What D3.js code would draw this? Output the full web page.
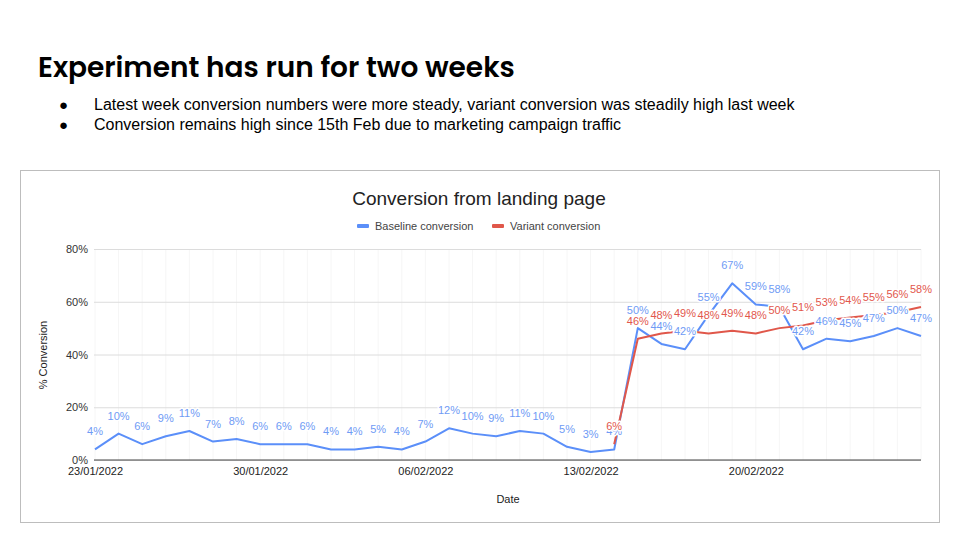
<!DOCTYPE html>
<html><head><meta charset="utf-8">
<script src="https://cdn.jsdelivr.net/npm/d3@7"></script>
<style>body{margin:0;background:#fff}svg{display:block}</style>
</head><body>
<svg id="c" width="960" height="540"></svg>
<script>
const dates = ["23/01/2022","24/01/2022","25/01/2022","26/01/2022","27/01/2022","28/01/2022","29/01/2022","30/01/2022","31/01/2022","01/02/2022","02/02/2022","03/02/2022","04/02/2022","05/02/2022","06/02/2022","07/02/2022","08/02/2022","09/02/2022","10/02/2022","11/02/2022","12/02/2022","13/02/2022","14/02/2022","15/02/2022","16/02/2022","17/02/2022","18/02/2022","19/02/2022","20/02/2022","21/02/2022","22/02/2022","23/02/2022","24/02/2022","25/02/2022","26/02/2022","27/02/2022"];
const baseline = [4,10,6,9,11,7,8,6,6,6,4,4,5,4,7,12,10,9,11,10,5,3,4,50,44,42,55,67,59,58,42,46,45,47,50,47];
const variant = [null,null,null,null,null,null,null,null,null,null,null,null,null,null,null,null,null,null,null,null,null,null,6,46,48,49,48,49,48,50,51,53,54,55,56,58];
const yTicks = [0,20,40,60,80];
const xTickLabels = ["23/01/2022","30/01/2022","06/02/2022","13/02/2022","20/02/2022"];
const seriesNames = ["Baseline conversion","Variant conversion"];

const svg = d3.select("#c");
const F = "Liberation Sans, Arial, sans-serif";
const blue = "#5b8ff9", red = "#e0574a";
const blueText = "#6f9bf5", redText = "#e2574c";

// slide header
svg.append("text").attr("x",38).attr("y",77).attr("font-family","Poppins, Inter, sans-serif")
  .attr("font-weight",600).attr("font-size",28).attr("fill","#000")
  .text("Experiment has run for two weeks");
const bullets = ["Latest week conversion numbers were more steady, variant conversion was steadily high last week",
  "Conversion remains high since 15th Feb due to marketing campaign traffic"];
bullets.forEach((b,i)=>{
  svg.append("text").attr("x",59).attr("y",110+i*20).attr("font-family",F).attr("font-size",15).text("●");
  svg.append("text").attr("x",94).attr("y",110+i*20).attr("font-family",F).attr("font-size",16).attr("fill","#000").text(b);
});

// chart frame
svg.append("rect").attr("x",20.5).attr("y",170.5).attr("width",919).attr("height",352)
  .attr("fill","#fff").attr("stroke","#bdbdbd").attr("stroke-width",1);

svg.append("text").attr("x",479).attr("y",205).attr("text-anchor","middle").attr("font-family",F)
  .attr("font-size",19).attr("fill","#222").text("Conversion from landing page");

// legend
const leg = [{x:357,c:blue,t:seriesNames[0]},{x:492,c:red,t:seriesNames[1]}];
leg.forEach(l=>{
  svg.append("rect").attr("x",l.x).attr("y",224).attr("width",12).attr("height",4).attr("rx",1).attr("fill",l.c);
  svg.append("text").attr("x",l.x+18).attr("y",229.5).attr("font-family",F).attr("font-size",11).attr("fill","#444").text(l.t);
});

const parse = d3.timeParse("%d/%m/%Y");
const dd = dates.map(parse);
const x = d3.scaleTime().domain([dd[0], dd[dd.length-1]]).range([95,921]);
const y = d3.scaleLinear().domain([0,80]).range([460,249]);

const g = svg.append("g");
// vertical minor grid at each date
g.selectAll(".vg").data(dd).enter().append("line")
  .attr("x1",d=>x(d)).attr("x2",d=>x(d)).attr("y1",y(80)).attr("y2",y(0))
  .attr("stroke","#f6f6f6").attr("stroke-width",1);
// horizontal grid
const yAxis = d3.axisLeft(y).tickValues(yTicks).tickFormat(d=>d+"%").tickSize(-(921-94)).tickPadding(6);
const ya = g.append("g").attr("transform","translate(94,0)").call(yAxis);
ya.select(".domain").remove();
ya.selectAll("line").attr("stroke","#dcdcdc");
ya.selectAll("text").attr("font-family",F).attr("font-size",11).attr("fill","#333");
// zero line
g.append("line").attr("x1",94).attr("x2",921).attr("y1",y(0)).attr("y2",y(0)).attr("stroke","#444").attr("stroke-width",1.2);

// x axis labels
const xAxis = d3.axisBottom(x).tickValues(xTickLabels.map(parse)).tickFormat(d3.timeFormat("%d/%m/%Y")).tickSize(0).tickPadding(7);
const xa = g.append("g").attr("transform",`translate(0,${y(0)})`).call(xAxis);
xa.select(".domain").remove();
xa.selectAll("text").attr("font-family",F).attr("font-size",11).attr("fill","#222");

svg.append("text").attr("x",508).attr("y",503).attr("text-anchor","middle").attr("font-family",F)
  .attr("font-size",11).attr("fill","#222").text("Date");
svg.append("text").attr("transform","translate(47,355) rotate(-90)").attr("text-anchor","middle")
  .attr("font-family",F).attr("font-size",11).attr("fill","#222").text("% Conversion");

// lines
const line = d3.line().defined(d=>d.v!=null).x(d=>x(d.d)).y(d=>y(d.v));
const bData = dd.map((d,i)=>({d,v:baseline[i]}));
const vData = dd.map((d,i)=>({d,v:variant[i]}));
g.append("path").datum(bData).attr("d",line).attr("fill","none").attr("stroke",blue).attr("stroke-width",2).attr("stroke-linejoin","round");
g.append("path").datum(vData).attr("d",line).attr("fill","none").attr("stroke",red).attr("stroke-width",2).attr("stroke-linejoin","round");

function labels(data,color){
  g.selectAll(null).data(data.filter(d=>d.v!=null)).enter().append("text")
    .attr("x",d=>x(d.d)).attr("y",d=>y(d.v)-14).attr("text-anchor","middle")
    .attr("font-family",F).attr("font-size",11).attr("fill",color)
    .attr("stroke","#fff").attr("stroke-width",3).attr("paint-order","stroke").attr("stroke-linejoin","round")
    .text(d=>d.v+"%");
}
labels(bData,blueText);
labels(vData,redText);
</script>
</body></html>
